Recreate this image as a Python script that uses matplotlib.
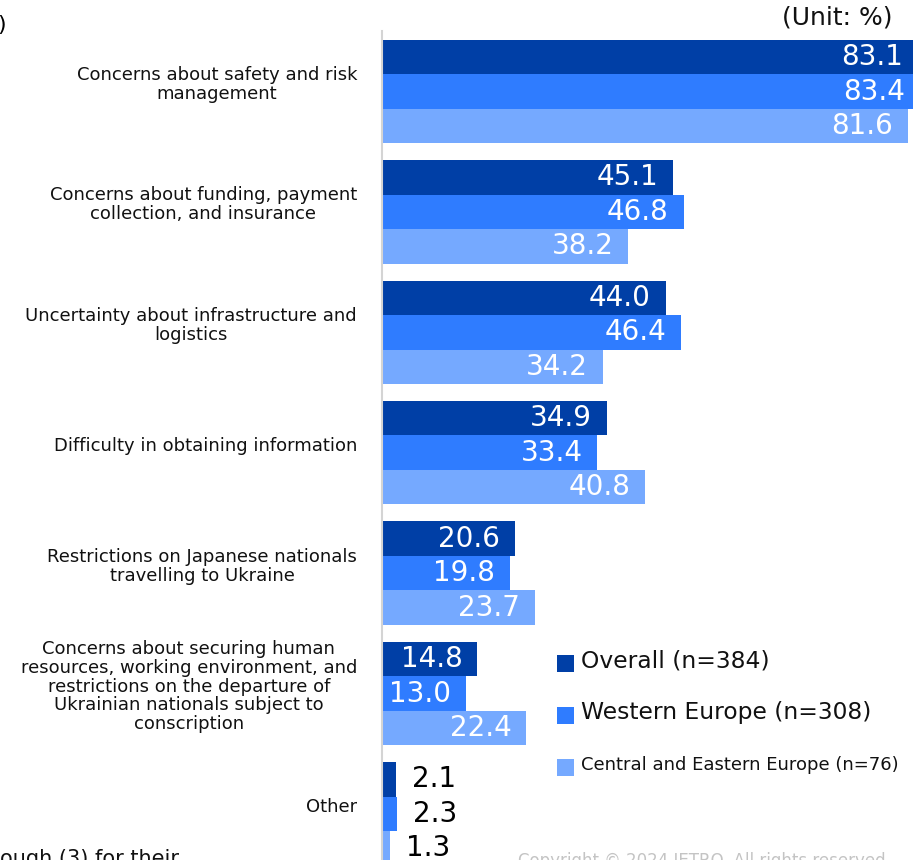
import numpy as np
import matplotlib.pyplot as plt
from matplotlib.patches import Rectangle

# Survey results (%), one value per category for each respondent group
categories = [
    "Concerns about safety and risk\nmanagement",
    "Concerns about funding, payment\ncollection, and insurance",
    "Uncertainty about infrastructure and\nlogistics",
    "Difficulty in obtaining information",
    "Restrictions on Japanese nationals\ntravelling to Ukraine",
    "Concerns about securing human\nresources, working environment, and\n"
    "restrictions on the departure of\nUkrainian nationals subject to\nconscription",
    "Other",
]
overall = [83.1, 45.1, 44.0, 34.9, 20.6, 14.8, 2.1]
western = [83.4, 46.8, 46.4, 33.4, 19.8, 13.0, 2.3]
central_eastern = [81.6, 38.2, 34.2, 40.8, 23.7, 22.4, 1.3]

series_names = ["Overall (n=384)", "Western Europe (n=308)",
                "Central and Eastern Europe (n=76)"]
series_values = [overall, western, central_eastern]
colors = ["#003fa6", "#2f7cff", "#75a9ff"]
legend_sizes = [16.8, 16.8, 13]

W, H = 913, 860
fig = plt.figure(figsize=(W / 100, H / 100), dpi=100)
ax = fig.add_axes([382 / W, 0, 1 - 382 / W, 1 - 31 / H])

bar_h = 0.286
y = np.arange(len(categories))
for k, (vals, col) in enumerate(zip(series_values, colors)):
    pos = y + (k - 1) * bar_h
    ax.barh(pos, vals, height=bar_h, color=col, linewidth=0)
    for p, v in zip(pos, vals):
        if v > 10:
            ax.annotate(f"{v:.1f}", xy=(v, p), xytext=(-15, 0),
                        textcoords="offset pixels", ha="right", va="center",
                        color="white", fontsize=20, annotation_clip=False)
        else:
            ax.annotate(f"{v:.1f}", xy=(v, p), xytext=(16, 0),
                        textcoords="offset pixels", ha="left", va="center",
                        color="black", fontsize=20, annotation_clip=False)

# category names to the left of the axis
for i, name in enumerate(categories):
    ax.annotate(name, xy=(0, i), xytext=(-25, 7), textcoords="offset pixels",
                ha="right", va="center", multialignment="center",
                fontsize=13, linespacing=1.07, color="#111111",
                annotation_clip=False)

ax.set_xlim(0, (W - 382) / 6.45)
ax.set_ylim((H - 91.5) / 120.4, (31 - 91.5) / 120.4)
ax.set_xticks([])
ax.set_yticks([])
for s in ["top", "right", "bottom"]:
    ax.spines[s].set_visible(False)
ax.spines["left"].set_color("#d4d4d4")
ax.spines["left"].set_linewidth(1.5)

# legend drawn as squares and labels in the lower right
for k, (name, col, fs) in enumerate(zip(series_names, colors, legend_sizes)):
    cy = 663 + k * 52
    fig.add_artist(Rectangle((557 / W, 1 - (cy + 8.5) / H), 17 / W, 17 / H,
                             transform=fig.transFigure, color=col, lw=0))
    fig.text(581 / W, 1 - (cy - 2) / H, name, fontsize=fs, va="center",
             ha="left", color="#111111")

fig.text(892 / W, 1 - 18 / H, "(Unit: %)", fontsize=18, ha="right",
         va="center", color="#111111")
fig.text(6 / W, 1 - 25 / H, ")", fontsize=16, ha="right", va="center")
fig.text(0, 1 - 849 / H, "ough (3) for their", fontsize=15, ha="left",
         va="top", color="#111111")
fig.text(518 / W, 1 - 852 / H, "Copyright \u00a9 2024 JETRO. All rights reserved.",
         fontsize=12, ha="left", va="top", color="#c4c4c4")

fig.savefig("out.png", dpi=100)
